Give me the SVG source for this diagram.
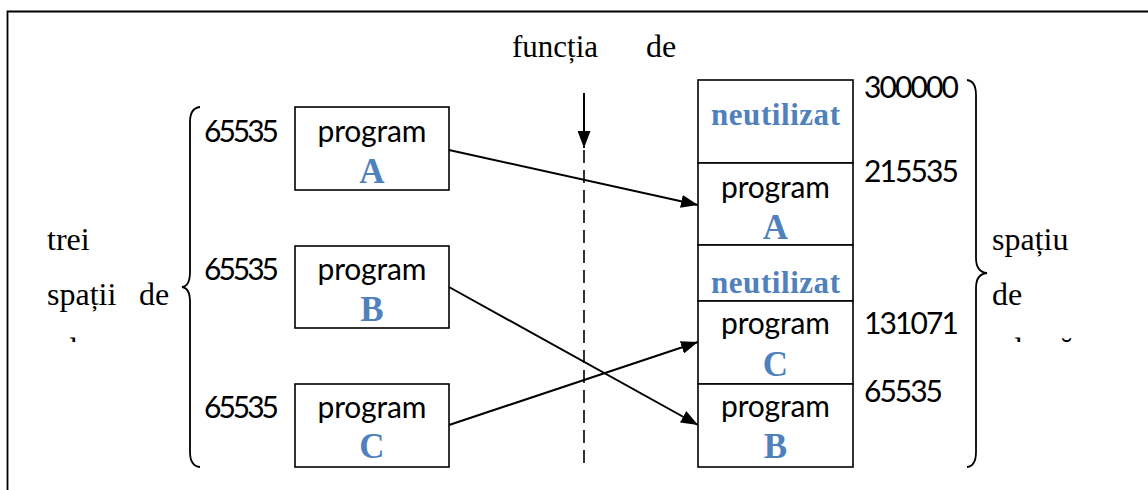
<svg xmlns="http://www.w3.org/2000/svg" width="1148" height="490" viewBox="0 0 1148 490">
  <style>
    .box { fill: #ffffff; stroke: #000000; stroke-width: 1.6; }
    .cal { font-family: Lato, "Open Sans", "Liberation Sans", sans-serif; font-size: 30px; fill: #000000; }
    .num { font-family: Lato, "Open Sans", "Liberation Sans", sans-serif; font-size: 30px; fill: #000000; }
    .tnr { font-family: "Liberation Serif", "Times New Roman", serif; font-size: 32px; fill: #000000; }
    .lbl { font-family: "Liberation Serif", "Times New Roman", serif; font-weight: bold; font-size: 35px; fill: #4F81BD; }
    .free { font-family: "Liberation Serif", "Times New Roman", serif; font-weight: bold; font-size: 31px; fill: #4F81BD; }
    .brace { fill: none; stroke: #000000; stroke-width: 1.8; }
    .link { fill: none; stroke: #000000; stroke-width: 2; }
  </style>
  <defs>
    <marker id="head" viewBox="0 0 17 13" refX="17" refY="6.5" markerWidth="17" markerHeight="13" markerUnits="userSpaceOnUse" orient="auto">
      <path d="M0,0 L17,6.5 L0,13 Z" fill="#000000"/>
    </marker>
    <clipPath id="cutLine">
      <rect x="0" y="0" width="1148" height="342"/>
    </clipPath>
  </defs>

  <rect width="1148" height="490" fill="#ffffff"/>

  <!-- outer frame (continues past the right and bottom edges) -->
  <path d="M7.5,495 V11.5 H1152" fill="none" stroke="#000000" stroke-width="1.8"/>

  <!-- title above the mapping line -->
  <g id="title">
    <text class="tnr" x="512" y="57" textLength="86" lengthAdjust="spacingAndGlyphs">funcția</text>
    <text class="tnr" x="646" y="57">de</text>
  </g>

  <!-- left caption -->
  <g id="left-caption">
    <text class="tnr" x="47" y="250">trei</text>
    <text class="tnr" x="47" y="305">spații</text>
    <text class="tnr" x="139" y="305">de</text>
    <text class="tnr" x="47" y="360" clip-path="url(#cutLine)">adrese</text>
  </g>

  <!-- right caption -->
  <g id="right-caption">
    <text class="tnr" x="992" y="250">spațiu</text>
    <text class="tnr" x="992" y="305">de</text>
    <text class="tnr" x="992" y="360" clip-path="url(#cutLine)">adresă</text>
  </g>

  <!-- braces -->
  <g id="brace-left">
    <path class="brace" d="M200,107 Q190,108 190,122 L190,272 Q190,286 182,287 Q190,288 190,302 L190,452 Q190,466 200,467"/>
  </g>
  <g id="brace-right">
    <path class="brace" d="M967,80 Q976,81 976,95 L976,258 Q976,272 987,273 Q976,274 976,288 L976,452 Q976,466 967,467"/>
  </g>

  <!-- separate address spaces -->
  <g id="src-A">
    <text class="num" x="204" y="142" textLength="75" lengthAdjust="spacing">65535</text>
    <rect class="box" x="295" y="107" width="154" height="83"/>
    <text class="cal" x="372" y="142" text-anchor="middle" textLength="109" lengthAdjust="spacing">program</text>
    <text class="lbl" x="372" y="183" text-anchor="middle">A</text>
  </g>
  <g id="src-B">
    <text class="num" x="204" y="280" textLength="75" lengthAdjust="spacing">65535</text>
    <rect class="box" x="295" y="246" width="154" height="82"/>
    <text class="cal" x="372" y="280" text-anchor="middle" textLength="109" lengthAdjust="spacing">program</text>
    <text class="lbl" x="372" y="321" text-anchor="middle">B</text>
  </g>
  <g id="src-C">
    <text class="num" x="204" y="418" textLength="75" lengthAdjust="spacing">65535</text>
    <rect class="box" x="295" y="384" width="154" height="83"/>
    <text class="cal" x="372" y="418" text-anchor="middle" textLength="109" lengthAdjust="spacing">program</text>
    <text class="lbl" x="372" y="458" text-anchor="middle">C</text>
  </g>

  <!-- single address space -->
  <g id="dst-free-top">
    <rect class="box" x="698" y="80" width="155" height="83"/>
    <text class="free" x="775.5" y="125" text-anchor="middle" textLength="129" lengthAdjust="spacing">neutilizat</text>
    <text class="num" x="864" y="98" textLength="95" lengthAdjust="spacing">300000</text>
  </g>
  <g id="dst-A">
    <rect class="box" x="698" y="163" width="155" height="82"/>
    <text class="cal" x="775.5" y="198" text-anchor="middle" textLength="109" lengthAdjust="spacing">program</text>
    <text class="lbl" x="775.5" y="239" text-anchor="middle">A</text>
    <text class="num" x="864" y="182" textLength="95" lengthAdjust="spacing">215535</text>
  </g>
  <g id="dst-free-mid">
    <rect class="box" x="698" y="245" width="155" height="56"/>
    <text class="free" x="775.5" y="293" text-anchor="middle" textLength="129" lengthAdjust="spacing">neutilizat</text>
  </g>
  <g id="dst-C">
    <rect class="box" x="698" y="301" width="155" height="83"/>
    <text class="cal" x="775.5" y="334" text-anchor="middle" textLength="109" lengthAdjust="spacing">program</text>
    <text class="lbl" x="775.5" y="376" text-anchor="middle">C</text>
    <text class="num" x="864" y="334" textLength="95" lengthAdjust="spacing">131071</text>
  </g>
  <g id="dst-B">
    <rect class="box" x="698" y="384" width="155" height="83"/>
    <text class="cal" x="775.5" y="417" text-anchor="middle" textLength="109" lengthAdjust="spacing">program</text>
    <text class="lbl" x="775.5" y="458" text-anchor="middle">B</text>
    <text class="num" x="864" y="402" textLength="79" lengthAdjust="spacing">65535</text>
  </g>

  <!-- connectors -->
  <g id="connectors">
    <line class="link" x1="584" y1="93" x2="584" y2="148" marker-end="url(#head)"/>
    <line x1="584" y1="150" x2="584" y2="467" stroke="#000000" stroke-width="1.6" stroke-dasharray="13 7"/>
    <line class="link" x1="449" y1="150" x2="698" y2="205" marker-end="url(#head)"/>
    <line class="link" x1="449" y1="287" x2="698" y2="425" marker-end="url(#head)"/>
    <line class="link" x1="449" y1="425" x2="698" y2="342" marker-end="url(#head)"/>
  </g>
</svg>
